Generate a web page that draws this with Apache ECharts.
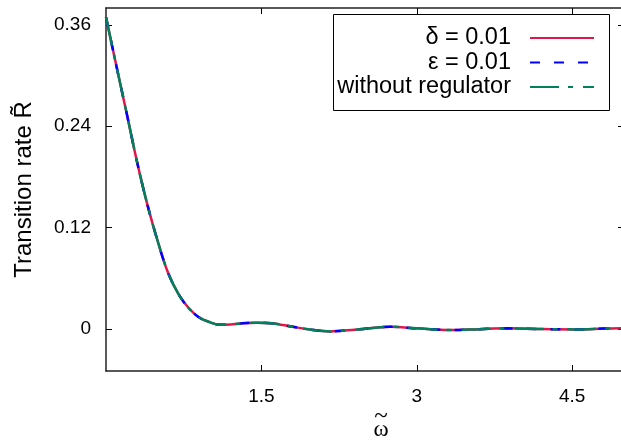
<!DOCTYPE html>
<html>
<head>
<meta charset="utf-8">
<script src="https://cdn.jsdelivr.net/npm/echarts@6/dist/echarts.min.js"></script>
<style>html,body{margin:0;padding:0;background:#fff}#c{width:621px;height:440px}</style>
</head>
<body>
<div id="c"></div>
<script>
// omega values and transition rate values
const omega = [0, 0.1, 0.2, 0.3, 0.4, 0.5, 0.6, 0.7, 0.8, 0.9, 1.0, 1.1, 1.2, 1.3, 1.46, 1.6, 1.8, 2.0, 2.16, 2.4, 2.74, 3.0, 3.32, 3.6, 3.87, 4.2, 4.54, 4.8, 5.0];
const rateDelta = [0.369, 0.3115, 0.255, 0.1975, 0.1468, 0.1034, 0.066, 0.041, 0.0243, 0.0133, 0.0079, 0.0047, 0.0052, 0.0064, 0.0073, 0.0067, 0.0024, -0.0015, -0.0031, -0.0011, 0.0024, 0.0005, -0.0015, -0.0004, 0.0005, -0.0003, -0.0007, 0.0002, 0.0008];
const rateEps = [0.369, 0.3115, 0.255, 0.1975, 0.1468, 0.1034, 0.066, 0.041, 0.0243, 0.0133, 0.0079, 0.0047, 0.0052, 0.0064, 0.0073, 0.0067, 0.0024, -0.0015, -0.0031, -0.0011, 0.0024, 0.0005, -0.0015, -0.0004, 0.0005, -0.0003, -0.0007, 0.0002, 0.0008];
const rateNoReg = [0.369, 0.3115, 0.255, 0.1975, 0.1468, 0.1034, 0.066, 0.041, 0.0243, 0.0133, 0.0079, 0.0047, 0.0052, 0.0064, 0.0073, 0.0067, 0.0024, -0.0015, -0.0031, -0.0011, 0.0024, 0.0005, -0.0015, -0.0004, 0.0005, -0.0003, -0.0007, 0.0002, 0.0008];
const seriesNames = ['δ = 0.01', 'ε = 0.01', 'without regulator'];
const xTicks = [1.5, 3, 4.5];
const yTicks = [0, 0.12, 0.24, 0.36];

const zip = (xs, ys) => xs.map((x, i) => [x, ys[i]]);
const chart = echarts.init(document.getElementById('c'), null, {renderer: 'canvas'});
const font = 'Liberation Sans, Arial, sans-serif';
const serif = 'Liberation Serif, DejaVu Serif, serif';
const axisLine = {show: true, onZero: false, lineStyle: {color: '#222', width: 1.5}};
const tick = (vals) => ({show: true, inside: true, length: 6, customValues: vals, lineStyle: {color: '#000', width: 1}});
const colors = ['#e0174b', '#0000ff', '#00805c'];
const dashes = ['solid', [10, 14], [29, 9, 5, 10]];
const datas = [rateDelta, rateEps, rateNoReg];
const rowTop = [26, 50.5, 75];

chart.setOption({
  animation: false,
  backgroundColor: '#fff',
  grid: {left: 106, top: 8, width: 518, height: 363, containLabel: false, outerBoundsMode: 'none'},
  xAxis: [{
    type: 'value', min: 0, max: 5, position: 'bottom',
    axisLine, axisTick: tick(xTicks), splitLine: {show: false},
    axisLabel: {customValues: xTicks, color: '#000', fontSize: 19, fontFamily: font, margin: 16},
    name: '{a|~}\n{b|ω}', nameLocation: 'middle', nameGap: 42, nameMoveOverlap: false,
    nameTextStyle: {
      color: '#000', padding: [0, 0, 0, 32], align: 'center',
      rich: {
        a: {fontFamily: serif, fontSize: 25, lineHeight: 7, align: 'center', color: '#000'},
        b: {fontFamily: serif, fontSize: 23, lineHeight: 19, align: 'center', color: '#000'}
      }
    }
  }, {
    type: 'value', min: 0, max: 5, position: 'top',
    axisLine, axisTick: tick(xTicks), axisLabel: {show: false}, splitLine: {show: false}
  }],
  yAxis: [{
    type: 'value', min: -0.05, max: 0.38, position: 'left',
    axisLine, axisTick: tick(yTicks), splitLine: {show: false},
    axisLabel: {customValues: yTicks, color: '#000', fontSize: 19, fontFamily: font, margin: 15},
    name: 'Transition rate R̃', nameLocation: 'middle', nameGap: 70, nameRotate: 90, nameMoveOverlap: false,
    nameTextStyle: {fontFamily: font, fontSize: 24, color: '#000'}
  }, {
    type: 'value', min: -0.05, max: 0.38, position: 'right',
    axisLine, axisTick: tick(yTicks), axisLabel: {show: false}, splitLine: {show: false}
  }],
  legend: seriesNames.map((n, i) => ({
    data: [n], orient: 'vertical', right: 26, top: rowTop[i], padding: 0,
    itemWidth: 64, itemHeight: 10, align: 'right', selectedMode: false,
    itemStyle: {color: 'rgba(0,0,0,0)', borderColor: 'rgba(0,0,0,0)', borderWidth: 0},
    textStyle: {fontSize: 23.5, lineHeight: 24, fontFamily: font, color: '#000', padding: [0, 14, 0, 0]}
  })),
  graphic: [{
    type: 'rect', shape: {x: 333.5, y: 14.5, width: 276, height: 96},
    style: {fill: 'none', stroke: '#000', lineWidth: 1}, z: 0, silent: true
  }],
  series: seriesNames.map((n, i) => ({
    name: n, type: 'line', data: zip(omega, datas[i]), smooth: 0.35,
    showSymbol: false, symbol: 'none', clip: true,
    lineStyle: {color: colors[i], width: 2.5, type: dashes[i]},
    itemStyle: {color: colors[i]}, z: 2 + i
  }))
});
</script>
</body>
</html>
